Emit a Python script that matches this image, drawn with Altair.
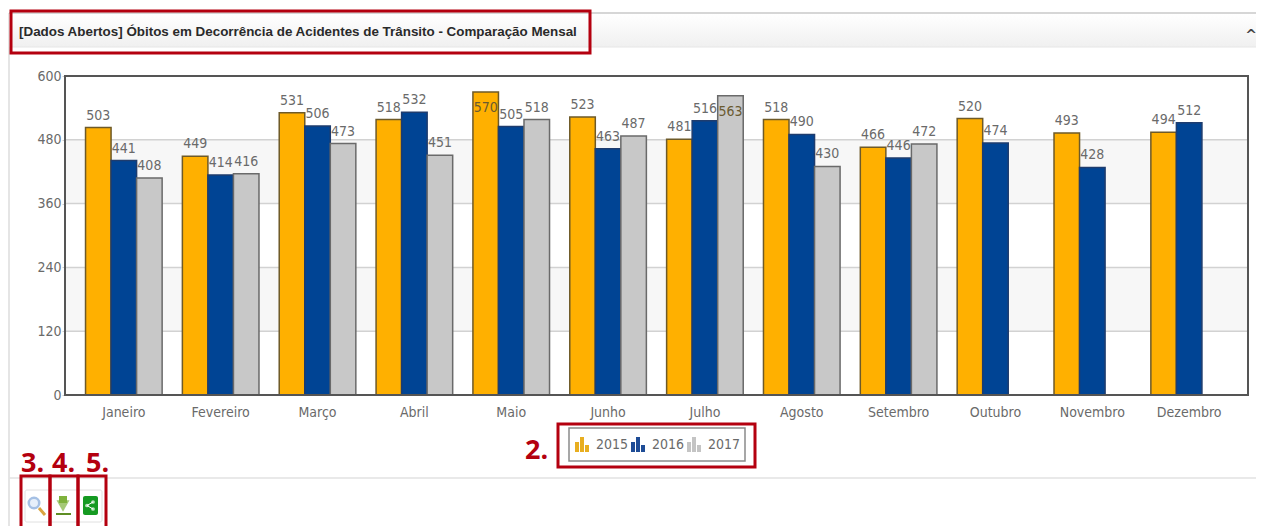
import altair as alt
import pandas as pd

months = ["Janeiro", "Fevereiro", "Março", "Abril", "Maio", "Junho", "Julho",
          "Agosto", "Setembro", "Outubro", "Novembro", "Dezembro"]
years = ["2015", "2016", "2017"]
v2015 = [503, 449, 531, 518, 570, 523, 481, 518, 466, 520, 493, 494]
v2016 = [441, 414, 506, 532, 505, 463, 516, 490, 446, 474, 428, 512]
v2017 = [408, 416, 473, 451, 518, 487, 563, 430, 472]
fills = ["#FFB000", "#004494", "#C8C8C8"]
strokes = ["#6E5A28", "#1E3C6E", "#6A6A6A"]
y_ticks = [0, 120, 240, 360, 480, 600]
stripe_lo = [120, 360]
stripe_hi = [240, 480]
inside_from = 560
title = "[Dados Abertos] Óbitos em Decorrência de Acidentes de Trânsito - Comparação Mensal"

TXT = "#6A6A6A"
RED = "#B4000F"
FONT = "DejaVu Sans Condensed"
PX, PY = 65, 76  # page position of the plot origin
W, H = 1183, 319
RIGHT = 1256  # last page column the canvas can reach

rows = []
for yr, vals in zip(years, [v2015, v2016, v2017]):
    for m, v in zip(months, vals):
        rows.append({"month": m, "year": yr, "value": v})
df = pd.DataFrame(rows)

x_scale = alt.Scale(domain=months, paddingInner=0.209, paddingOuter=0.212)
y_scale = alt.Scale(domain=[0, 600], nice=False)
off = alt.XOffset("year:N", scale=alt.Scale(domain=years, paddingInner=0, paddingOuter=0))
x_axis = alt.Axis(labelAngle=0, ticks=False, domain=False, grid=False,
                  labelFont=FONT, labelFontSize=14, labelColor=TXT, labelPadding=10)
y_axis = alt.Axis(values=y_ticks, grid=False, domain=False, tickSize=3, tickColor="#CCCCCC",
                  labelFont=FONT, labelFontSize=14, labelColor=TXT, labelPadding=1)
x_enc = alt.X("month:N", scale=x_scale, sort=months, title=None, axis=x_axis)
y_enc = alt.Y("value:Q", scale=y_scale, title=None, axis=y_axis)

one = alt.Data(values=[{}])


def box(x0, x1, y0, y1, **mark):
    return alt.Chart(one).mark_rect(**mark).encode(
        x=alt.value(x0 - PX), x2=alt.value(x1 - PX), y=alt.value(y0 - PY), y2=alt.value(y1 - PY))


def line(x0, x1, y0, y1, color, width):
    return alt.Chart(one).mark_rule(color=color, strokeWidth=width).encode(
        x=alt.value(x0 - PX), x2=alt.value(x1 - PX), y=alt.value(y0 - PY), y2=alt.value(y1 - PY))


def label(s, x, y, **mark):
    return alt.Chart(one).mark_text(text=s, **mark).encode(x=alt.value(x - PX), y=alt.value(y - PY))


def dot(x, y, shape, size, **mark):
    return alt.Chart(one).mark_point(shape=shape, size=size, **mark).encode(
        x=alt.value(x - PX), y=alt.value(y - PY))


def outline(x0, x1, y0, y1):
    return box(x0, x1, y0, y1, fillOpacity=0, stroke=RED, strokeWidth=3)


# ---- page chrome
chrome = [
    line(9, 9, 13, 526, "#DDDDDD", 1.5),
    box(9, RIGHT, 14, 47, fill=alt.Gradient(gradient="linear", x1=0, y1=0, x2=0, y2=1,
                                            stops=[alt.GradientStop(color="#FFFFFF", offset=0),
                                                   alt.GradientStop(color="#F0F0F0", offset=1)])),
    line(9, RIGHT, 13, 13, "#C8C8C8", 1.5),
    line(9, RIGHT, 47, 47, "#E6E6E6", 1),
    line(9, RIGHT, 478, 478, "#E2E2E2", 1.5),
    label(title, 19, 32, align="left", baseline="middle", font="Liberation Sans", fontWeight="bold",
          fontSize=13.4, color="#2A2A2A"),
    label("^", 1251, 36, align="center", baseline="middle", font="DejaVu Sans", fontWeight="bold",
          fontSize=14, color="#444444"),
]

# ---- plot
stripes = alt.Chart(pd.DataFrame({"value": stripe_lo, "hi": stripe_hi})).mark_rect(fill="#F7F7F7").encode(
    y=y_enc, y2="hi:Q", x=alt.value(0), x2=alt.value(W))
grid = alt.Chart(pd.DataFrame({"value": y_ticks[1:-1]})).mark_rule(color="#D2D2D2", strokeWidth=1.5).encode(
    y=y_enc, x=alt.value(0), x2=alt.value(W))
bars = alt.Chart(df).mark_bar(strokeWidth=1.5).encode(
    x=x_enc, xOffset=off, y=y_enc,
    color=alt.Color("year:N", scale=alt.Scale(domain=years, range=fills), legend=None),
    stroke=alt.Stroke("year:N", scale=alt.Scale(domain=years, range=strokes), legend=None))
lab_over = alt.Chart(df).transform_filter(f"datum.value < {inside_from}").mark_text(
    baseline="bottom", dy=-5, font=FONT, fontSize=14, color=TXT).encode(
    x=x_enc, xOffset=off, y=y_enc, text="value:Q")
lab_in = alt.Chart(df).transform_filter(f"datum.value >= {inside_from}").mark_text(
    baseline="top", dy=9, font=FONT, fontSize=14, color="#6A5A30").encode(
    x=x_enc, xOffset=off, y=y_enc, text="value:Q")
frame = box(PX, PX + W, PY, PY + H, fillOpacity=0, stroke="#555555", strokeWidth=2)

# ---- legend
legend = [box(569, 745, 428, 461, fill="#FFFFFF", stroke="#8A8A8A", strokeWidth=1.5)]
for x0, col, s, tx in [(575, "#E8AE20", "2015", 596), (631, "#1E4C96", "2016", 652), (687, "#C4C4C4", "2017", 708)]:
    legend += [box(x0, x0 + 4, 442, 452, fill=col),
               box(x0 + 5, x0 + 9, 437, 452, fill=col),
               box(x0 + 10, x0 + 14, 445, 452, fill=col)]
    legend.append(label(s, tx, 445, align="left", baseline="middle", font=FONT, fontSize=14, color=TXT))

# ---- buttons
buttons = [
    box(25, 102, 490, 522, fill="#FFFFFF", stroke="#E0E0E0", strokeWidth=1, cornerRadius=2),
    line(39, 45, 508, 515, "#D9A441", 3),
    dot(34, 503, "circle", 110, stroke="#7FA6DA", strokeWidth=2.5, fill="#DCE9F8", filled=True),
    box(59, 67, 496, 503, fill="#7FB23C"),
    dot(63, 506, "triangle-down", 170, fill="#7FB23C", filled=True, stroke="#7FB23C", strokeWidth=0),
    line(56, 71, 514, 514, "#5E8E24", 2),
    box(83, 98, 496, 515, fill="#159A22", cornerRadius=2),
    line(87, 93, 505.5, 502, "#FFFFFF", 1),
    line(87, 93, 505.5, 509, "#FFFFFF", 1),
    dot(87, 505.5, "circle", 14, fill="#FFFFFF", filled=True, strokeWidth=0),
    dot(93, 502, "circle", 14, fill="#FFFFFF", filled=True, strokeWidth=0),
    dot(93, 509, "circle", 14, fill="#FFFFFF", filled=True, strokeWidth=0),
]

# ---- red annotations
red = [
    outline(11, 590, 11, 53),
    outline(558, 755, 424, 467),
    outline(21, 50, 476, 528),
    outline(50, 78, 476, 528),
    outline(78, 106, 476, 528),
]
for s, x, y in [("2.", 525, 459), ("3.", 21, 472), ("4.", 52, 472), ("5.", 86, 472)]:
    red.append(label(s, x, y, align="left", baseline="alphabetic", font="Open Sans", fontWeight="bold",
                     fontSize=27, color=RED))

chart = alt.layer(*chrome, stripes, grid, bars, lab_over, lab_in, frame, *legend, *buttons, *red).resolve_scale(
    color="independent", stroke="independent"
).properties(
    width=W, height=H, padding={"left": PX - 8, "top": PY - 8, "right": RIGHT - PX - W, "bottom": 131},
    background="#FFFFFF",
    autosize=alt.AutoSizeParams(type="none"),
).configure_view(stroke=None)

chart.save("out.html", embed_options={"renderer": "svg", "actions": False})
